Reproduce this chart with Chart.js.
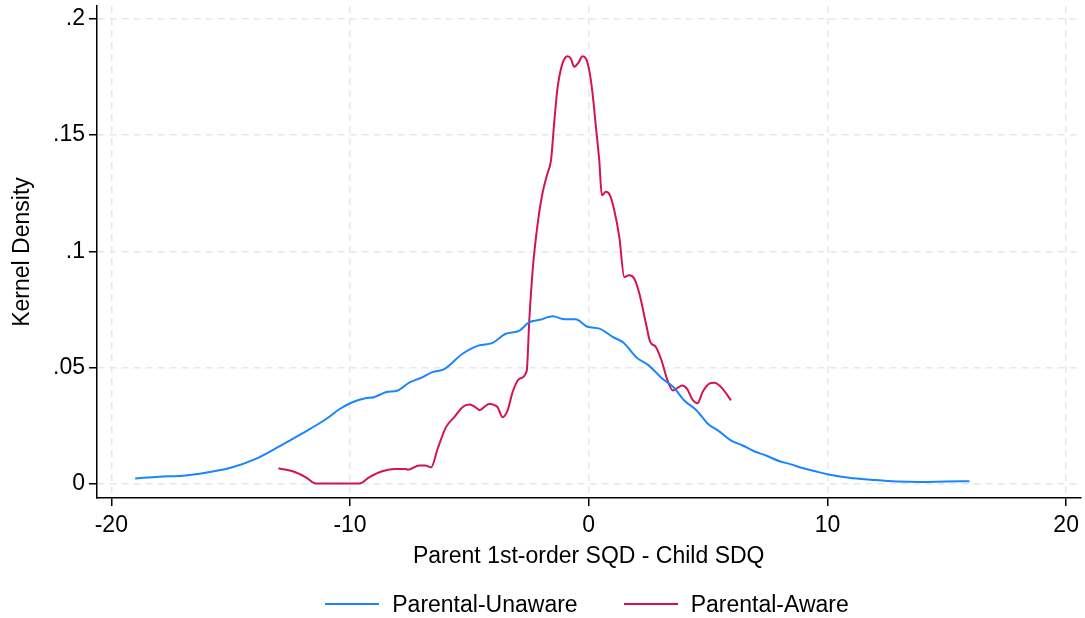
<!DOCTYPE html>
<html>
<head>
<meta charset="utf-8">
<title>Kernel Density</title>
<script src="https://cdn.jsdelivr.net/npm/chart.js@4/dist/chart.umd.min.js"></script>
<style>
  body { margin: 0; background: #fff; }
  #wrap { position: relative; width: 1085px; height: 618px; }
  #legend {
    position: absolute; left: 95px; width: 984px; top: 591px;
    display: flex; justify-content: center; align-items: center;
    font: 23px "Liberation Sans", Arial, sans-serif; line-height: 26px; color: #000;
  }
  #legend .item { display: flex; align-items: center; margin: 0 23px; }
  #legend .swatch { width: 54px; height: 2px; margin-right: 13px; }
</style>
</head>
<body>
<div id="wrap">
  <canvas id="myChart" width="1085" height="618"></canvas>
  <div id="legend"></div>
</div>
<script>
// kernel density estimates, read off at irregular x steps
var unawareX = [-19.0, -18.0, -17.0, -16.0, -15.0, -14.0, -13.0, -12.0, -11.0, -10.45, -9.9, -9.35, -9.0, -8.5, -8.0,
   -7.5, -7.0, -6.55, -6.05, -5.3, -4.6, -4.05, -3.5, -2.9, -2.5, -2.05, -1.5, -1.0, -0.55, -0.05,
   0.45, 1.0, 1.45, 2.0, 2.5, 3.05, 3.55, 4.0, 4.5, 5.0, 5.45, 5.95, 6.45, 6.95, 7.45,
   8.0, 8.4, 9.0, 9.5, 10.05, 10.9, 11.9, 12.9, 13.9, 15.0, 15.95];
var unawareY = [0.0022, 0.0030, 0.0034, 0.0048, 0.0068, 0.0104, 0.0158, 0.0216, 0.0278, 0.0320, 0.0350, 0.0367, 0.0372, 0.0393, 0.0401,
   0.0436, 0.0456, 0.0480, 0.0493, 0.0558, 0.0595, 0.0605, 0.0644, 0.0659, 0.0694, 0.0705, 0.0720, 0.0707, 0.0707, 0.0675,
   0.0667, 0.0632, 0.0607, 0.0543, 0.0510, 0.0455, 0.0415, 0.0358, 0.0317, 0.0257, 0.0226, 0.0186, 0.0164, 0.0138, 0.0120,
   0.0096, 0.0085, 0.0066, 0.0053, 0.0039, 0.0025, 0.0016, 0.0009, 0.0007, 0.0009, 0.0010];

var awareX = [-13.0, -12.4, -11.85, -11.43, -9.6, -9.2, -8.65, -8.1, -7.65, -7.58, -7.1, -6.85, -6.6, -6.33, -5.98,
   -5.63, -5.29, -5.0, -4.66, -4.59, -4.17, -3.82, -3.61, -3.4, -3.19, -2.91, -2.6, -2.49, -2.35, -2.14,
   -1.94, -1.73, -1.58, -1.45, -1.31, -1.1, -0.89, -0.75, -0.61, -0.43, -0.26, -0.12, 0.02, 0.16, 0.30,
   0.44, 0.55, 0.72, 0.89, 1.07, 1.28, 1.49, 1.70, 1.91, 2.12, 2.40, 2.58, 2.80, 3.05, 3.30,
   3.52, 3.72, 3.90, 4.12, 4.35, 4.56, 4.77, 5.05, 5.26, 5.61, 5.96];
var awareY = [0.0066, 0.0053, 0.0027, 0.0, 0.0, 0.0027, 0.0053, 0.0063, 0.0063, 0.0060, 0.0078, 0.0078, 0.0070, 0.0150, 0.0243,
   0.0286, 0.0329, 0.0340, 0.0322, 0.0316, 0.0343, 0.0329, 0.0286, 0.0315, 0.0394, 0.0451, 0.0484, 0.0703, 0.0918, 0.1119,
   0.1249, 0.1335, 0.1392, 0.1550, 0.1701, 0.1809, 0.1840, 0.1830, 0.1794, 0.1812, 0.1840, 0.1830, 0.1780, 0.1680, 0.1536,
   0.1392, 0.1241, 0.1256, 0.1241, 0.1177, 0.1062, 0.0889, 0.0897, 0.0882, 0.0818, 0.0688, 0.0609, 0.0590, 0.0530, 0.0444,
   0.0401, 0.0412, 0.0422, 0.0408, 0.0361, 0.0346, 0.0394, 0.0430, 0.0434, 0.0408, 0.0358];

var xTicks = [-20, -10, 0, 10, 20];
var yTicks = [0, 0.05, 0.1, 0.15, 0.2];

function toPoints(xs, ys) {
   return xs.map(function (x, i) { return { x: x, y: ys[i] }; });
}

var font = { family: '"Liberation Sans", Arial, sans-serif', size: 23 };

var gridOpts = {
   color: '#e8e8e8',
   lineWidth: 1.5,
   tickColor: '#000',
   tickWidth: 1.5,
   tickLength: 8,
   tickBorderDash: []
};

// dash on grid lines, solid black axis line
var borderOpts = { display: true, color: '#000', width: 1.5, dash: [7, 5] };

const ctx = document.getElementById('myChart').getContext('2d');
const myChart = new Chart(ctx, {
   type: 'scatter',
   data: {
      datasets: [{
         label: 'Parental-Unaware',
         data: toPoints(unawareX, unawareY),
         showLine: true,
         borderColor: '#1a85ff',
         backgroundColor: '#1a85ff',
         borderWidth: 2,
         pointRadius: 0,
         cubicInterpolationMode: 'monotone'
      }, {
         label: 'Parental-Aware',
         data: toPoints(awareX, awareY),
         showLine: true,
         borderColor: '#d41159',
         backgroundColor: '#d41159',
         borderWidth: 2,
         pointRadius: 0,
         cubicInterpolationMode: 'monotone'
      }]
   },
   options: {
      responsive: false,
      animation: false,
      layout: { padding: { left: 0, right: 4, top: 6, bottom: 40 } },
      plugins: {
         legend: { display: false },
         tooltip: { enabled: false }
      },
      scales: {
         x: {
            type: 'linear',
            min: -20.6,
            max: 20.6,
            afterBuildTicks: function (scale) {
               scale.ticks = xTicks.map(function (v) { return { value: v }; });
            },
            afterFit: function (scale) { scale.height = 80; },
            grid: gridOpts,
            border: borderOpts,
            ticks: { color: '#000', font: font, padding: 6, maxRotation: 0 },
            title: {
               display: true,
               text: 'Parent 1st-order SQD - Child SDQ',
               color: '#000',
               font: font,
               padding: { top: 0, bottom: 8 }
            }
         },
         y: {
            type: 'linear',
            min: -0.0062,
            max: 0.2056,
            afterBuildTicks: function (scale) {
               scale.ticks = yTicks.map(function (v) { return { value: v }; });
            },
            afterFit: function (scale) {
               scale.width = 97;
               scale.paddingTop = 0;
               scale.paddingBottom = 0;
            },
            grid: gridOpts,
            border: borderOpts,
            ticks: {
               color: '#000',
               font: font,
               padding: 4,
               callback: function (v) { return v === 0 ? '0' : String(v).replace(/^0/, ''); }
            },
            title: {
               display: true,
               text: 'Kernel Density',
               color: '#000',
               font: font,
               padding: { top: 9, bottom: 0 }
            }
         }
      }
   }
});

// legend row under the axis, built from the datasets
var legendEl = document.getElementById('legend');
myChart.data.datasets.forEach(function (ds) {
   var item = document.createElement('div');
   item.className = 'item';
   var swatch = document.createElement('span');
   swatch.className = 'swatch';
   swatch.style.background = ds.borderColor;
   var text = document.createElement('span');
   text.textContent = ds.label;
   item.appendChild(swatch);
   item.appendChild(text);
   legendEl.appendChild(item);
});
</script>
</body>
</html>
